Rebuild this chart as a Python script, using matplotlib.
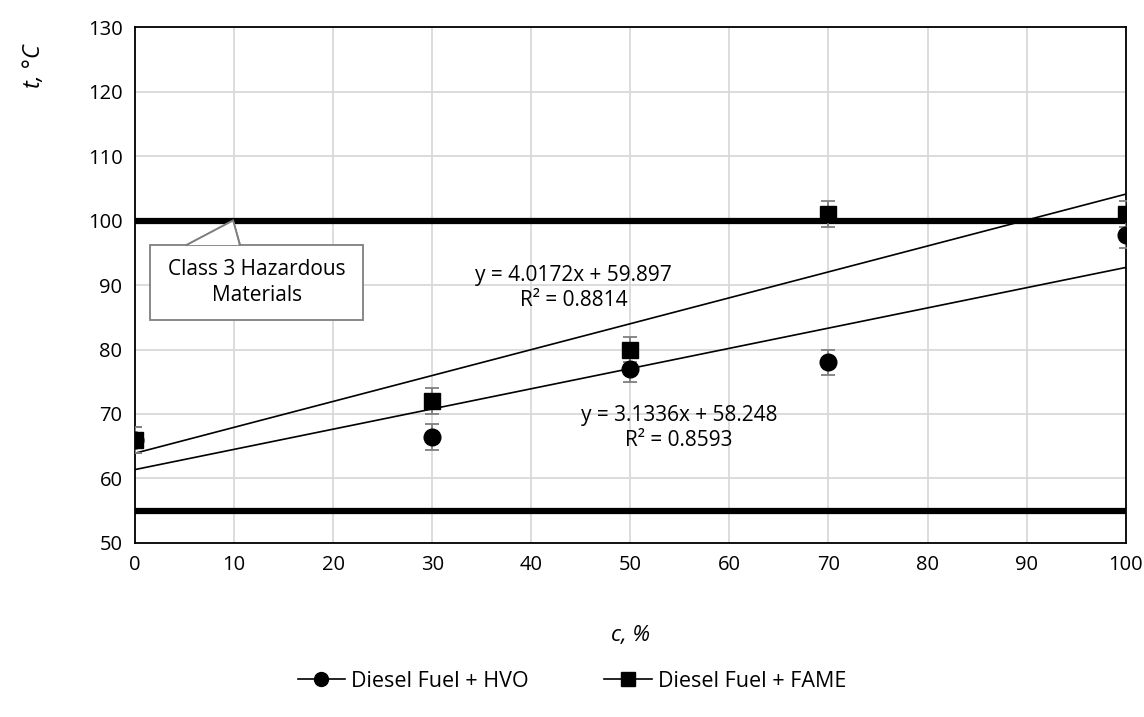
import matplotlib
matplotlib.use("Agg")
import matplotlib.pyplot as plt
from matplotlib.patches import Rectangle, Polygon
import numpy as np

plt.rcParams["font.family"] = ["Open Sans", "DejaVu Sans"]

# data
conc = [0, 30, 50, 70, 100]
t_hvo = [66.0, 66.4, 77.0, 78.0, 97.8]
t_fame = [66.0, 72.0, 80.0, 101.0, 101.0]
err_hvo = [2, 2, 2, 2, 2]
err_fame = [2, 2, 2, 2, 2]

# Excel trendlines, x = category index (c/10 + 1)
fit_fame = (4.0172, 59.897, 0.8814)
fit_hvo = (3.1336, 58.248, 0.8593)

limits = [100, 55]

fig = plt.figure(figsize=(11.44, 7.17), dpi=100)
ax = fig.add_axes([0.118, 0.2427, 0.866, 0.7196])

ax.set_xlim(0, 100)
ax.set_ylim(50, 130)
ax.set_xticks(np.arange(0, 101, 10))
ax.set_yticks(np.arange(50, 131, 10))
ax.grid(True, color="#d9d9d9", lw=1.3)
ax.set_axisbelow(True)
for s in ax.spines.values():
    s.set_color("black")
    s.set_linewidth(1.3)
ax.tick_params(length=0, labelsize=14.5, pad=9)

for yv in limits:
    ax.axhline(yv, color="black", lw=4.5, zorder=2)

cx = np.array([0, 100])
for a, b, _ in (fit_fame, fit_hvo):
    ax.plot(cx, a * (cx / 10 + 1) + b, color="black", lw=1.2, zorder=3)

ax.errorbar(conc, t_hvo, yerr=err_hvo, fmt="none", ecolor="#7f7f7f", elinewidth=1.3,
            capsize=5, capthick=1.3, zorder=4)
ax.errorbar(conc, t_fame, yerr=err_fame, fmt="none", ecolor="#7f7f7f", elinewidth=1.3,
            capsize=5, capthick=1.3, zorder=4)
ax.plot(conc, t_hvo, "o", color="black", ms=12, zorder=5)
ax.plot(conc, t_fame, "s", color="black", ms=12, zorder=6)

ax.text(44.3, 89.6, "y = %.4fx + %.3f\nR² = %.4f" % fit_fame, ha="center", va="center",
        fontsize=15, linespacing=1.25)
ax.text(54.9, 67.9, "y = %.4fx + %.3f\nR² = %.4f" % fit_hvo, ha="center", va="center",
        fontsize=15, linespacing=1.25)

# callout box with pointer
ax.add_patch(Polygon([[5.2, 96.2], [9.9, 100.0], [10.6, 96.2]], closed=False,
                     fc="white", ec="#7f7f7f", lw=1.3, zorder=7))
ax.add_patch(Rectangle((1.55, 84.6), 21.5, 11.6, fc="white", ec="#7f7f7f",
                       lw=1.3, zorder=7))
ax.add_patch(Polygon([[5.35, 96.2], [9.9, 100.0], [10.45, 96.2]], closed=True,
                     fc="white", ec="none", zorder=8))
ax.plot([5.2, 9.9, 10.6], [96.2, 100.0, 96.2], color="#7f7f7f", lw=1.3, zorder=9)
ax.text(12.3, 90.4, "Class 3 Hazardous\nMaterials", ha="center", va="center",
        fontsize=15, linespacing=1.3, zorder=10)

ax.set_xlabel("c, %", fontsize=16, style="italic", labelpad=36)
ax.set_ylabel("t, °C", fontsize=17, style="italic")
ax.yaxis.set_label_coords(-0.09, 0.925)

h1, = ax.plot([], [], "-o", color="black", ms=10, lw=1.2)
h2, = ax.plot([], [], "-s", color="black", ms=10, lw=1.2)
fig.legend([h1, h2], ["Diesel Fuel + HVO", "Diesel Fuel + FAME"], loc="center",
           bbox_to_anchor=(0.5, 0.05), ncol=2, frameon=False, fontsize=15.5,
           columnspacing=3.5, handlelength=2.2, handletextpad=0.3)

fig.savefig("out.png", dpi=100)
